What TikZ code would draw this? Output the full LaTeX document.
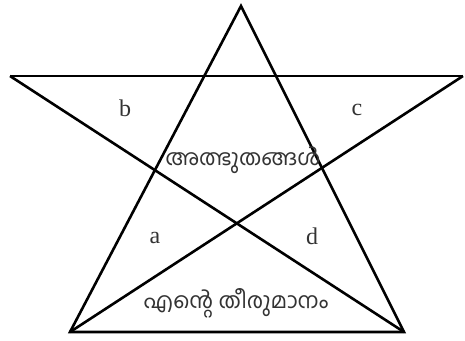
\documentclass[tikz,border=0pt]{standalone}
\usepackage{fontspec}
\setmainfont{Liberation Serif}
\newfontfamily\malfont[Script=Malayalam]{Hind Kochi}
\begin{document}
\begin{tikzpicture}[x=1pt,y=-1pt,
  edge/.style={line width=2.6pt,line join=miter},
  letter/.style={text=black!80,font=\fontsize{24}{28}\selectfont},
  mal/.style={text=black!80,font=\malfont\fontsize{22}{26}\selectfont}]
\useasboundingbox (0,0) rectangle (465,340);
\coordinate (T) at (241,6);
\coordinate (L) at (10,76);
\coordinate (R) at (463,76);
\coordinate (BL) at (70,332);
\coordinate (BR) at (404,332);
\draw[edge] (T) -- (BL) -- (BR) -- cycle;
\draw[edge] (L) -- (R);
\draw[edge] (L) -- (BR);
\draw[edge] (R) -- (BL);
\node[letter] (b) at (125,108) {b};
\node[letter] (c) at (357,110) {c};
\node[letter] (a) at (155,238) {a};
\node[letter] (d) at (312,236) {d};
\node[mal] (top) at (243,160) {അത്ഭുതങ്ങൾ};
\node[mal] (bot) at (236,303) {എന്റെ തീരുമാനം};
\end{tikzpicture}
\end{document}
